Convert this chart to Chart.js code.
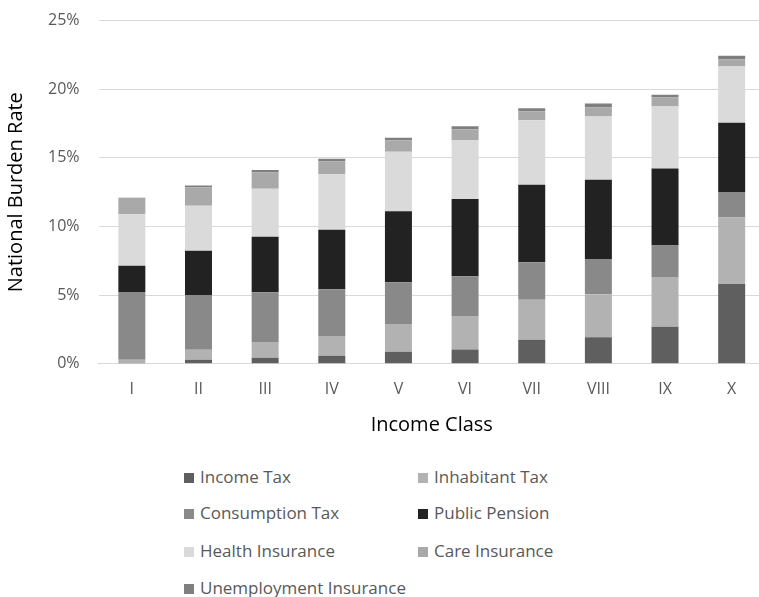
<!DOCTYPE html>
<html>
<head>
<meta charset="utf-8">
<script src="https://cdn.jsdelivr.net/npm/chart.js@4/dist/chart.umd.min.js"></script>
<style>
  html, body { margin: 0; padding: 0; background: #fff; overflow: hidden; }
  #wrap { position: relative; width: 766px; height: 597px; overflow: hidden; }
  #wrap canvas { position: absolute; left: 0; top: -8px; }
  #legend { position: absolute; left: 0; top: 0; font-family: "Open Sans", sans-serif; font-size: 17px; color: #595959; }
  .item { position: absolute; white-space: nowrap; line-height: 20px; height: 20px; }
  .item span.box { display: inline-block; width: 10px; height: 10px; margin-right: 6px; vertical-align: 0px; }
</style>
</head>
<body>
<div id="wrap">
  <canvas id="chart_burden" width="766" height="448"></canvas>
  <div id="legend"></div>
</div>
<script>
var incomeClasses = ['I', 'II', 'III', 'IV', 'V', 'VI', 'VII', 'VIII', 'IX', 'X'];

var incomeTax       = [0.05, 0.29, 0.44, 0.58, 0.88, 1.05, 1.75, 1.93, 2.70, 5.82];
var inhabitantTax   = [0.25, 0.73, 1.14, 1.44, 2.02, 2.43, 2.92, 3.14, 3.63, 4.84];
var consumptionTax  = [4.93, 3.99, 3.63, 3.41, 3.04, 2.90, 2.73, 2.57, 2.28, 1.85];
var publicPension   = [1.92, 3.22, 4.04, 4.33, 5.18, 5.62, 5.64, 5.77, 5.62, 5.04];
var healthInsurance = [3.75, 3.28, 3.50, 4.04, 4.33, 4.31, 4.70, 4.60, 4.51, 4.11];
var careInsurance   = [1.17, 1.34, 1.19, 0.94, 0.83, 0.77, 0.65, 0.68, 0.65, 0.51];
var unemployment    = [0.03, 0.14, 0.18, 0.20, 0.19, 0.22, 0.22, 0.27, 0.20, 0.27];

var seriesNames  = ['Income Tax', 'Inhabitant Tax', 'Consumption Tax', 'Public Pension',
                    'Health Insurance', 'Care Insurance', 'Unemployment Insurance'];
var seriesData   = [incomeTax, inhabitantTax, consumptionTax, publicPension,
                    healthInsurance, careInsurance, unemployment];
var seriesColors = ['#5f5f5f', '#b2b2b2', '#898989', '#222222', '#dadada', '#a9a9a9', '#7f7f7f'];

var yTicks = [0, 5, 10, 15, 20, 25];

var datasets = seriesNames.map(function (name, i) {
    return {
        label: name,
        data: seriesData[i],
        backgroundColor: seriesColors[i],
        borderWidth: 0,
        barPercentage: 0.405,
        categoryPercentage: 1
    };
});

var chart_burden = new Chart(document.getElementById('chart_burden'), {
    type: 'bar',
    data: {
        labels: incomeClasses,
        datasets: datasets
    },
    options: {
        animation: false,
        responsive: false,
        layout: {
            padding: { top: 0, left: 4, right: 1, bottom: 3 }
        },
        plugins: {
            legend: { display: false },
            tooltip: { enabled: false }
        },
        scales: {
            x: {
                stacked: true,
                grid: { display: false },
                border: { color: '#d9d9d9', width: 1 },
                ticks: {
                    color: '#595959',
                    font: { family: 'Open Sans', size: 16 },
                    padding: 8
                },
                title: {
                    display: true,
                    text: 'Income Class',
                    color: '#000000',
                    font: { family: 'Open Sans', size: 20 },
                    padding: { top: 6, bottom: 0 }
                }
            },
            y: {
                stacked: true,
                min: 0,
                max: 25,
                afterBuildTicks: function (axis) {
                    axis.ticks = yTicks.map(function (v) { return { value: v }; });
                },
                grid: { color: '#d9d9d9', lineWidth: 1, drawTicks: false },
                border: { display: false },
                ticks: {
                    color: '#595959',
                    font: { family: 'Open Sans', size: 16 },
                    padding: 19,
                    callback: function (value) { return value + '%'; }
                },
                title: {
                    display: true,
                    text: 'National Burden Rate',
                    color: '#000000',
                    font: { family: 'Open Sans', size: 20 },
                    padding: { top: 0, bottom: 1 }
                }
            }
        }
    },
    plugins: [{
        id: 'whiteBackground',
        beforeDraw: function (chart) {
            var ctx = chart.canvas.getContext('2d');
            ctx.save();
            ctx.globalCompositeOperation = 'destination-over';
            ctx.fillStyle = 'white';
            ctx.fillRect(0, 0, chart.canvas.width, chart.canvas.height);
            ctx.restore();
        }
    }]
});

// two-column legend like the original
var legendPos = [[184, 467], [418, 467], [184, 503], [418, 503], [184, 541], [418, 541], [184, 578]];
var legendEl = document.getElementById('legend');
seriesNames.forEach(function (name, i) {
    var div = document.createElement('div');
    div.className = 'item';
    div.style.left = legendPos[i][0] + 'px';
    div.style.top = legendPos[i][1] + 'px';
    div.innerHTML = '<span class="box" style="background:' + seriesColors[i] + '"></span>' + name;
    legendEl.appendChild(div);
});
</script>
</body>
</html>
